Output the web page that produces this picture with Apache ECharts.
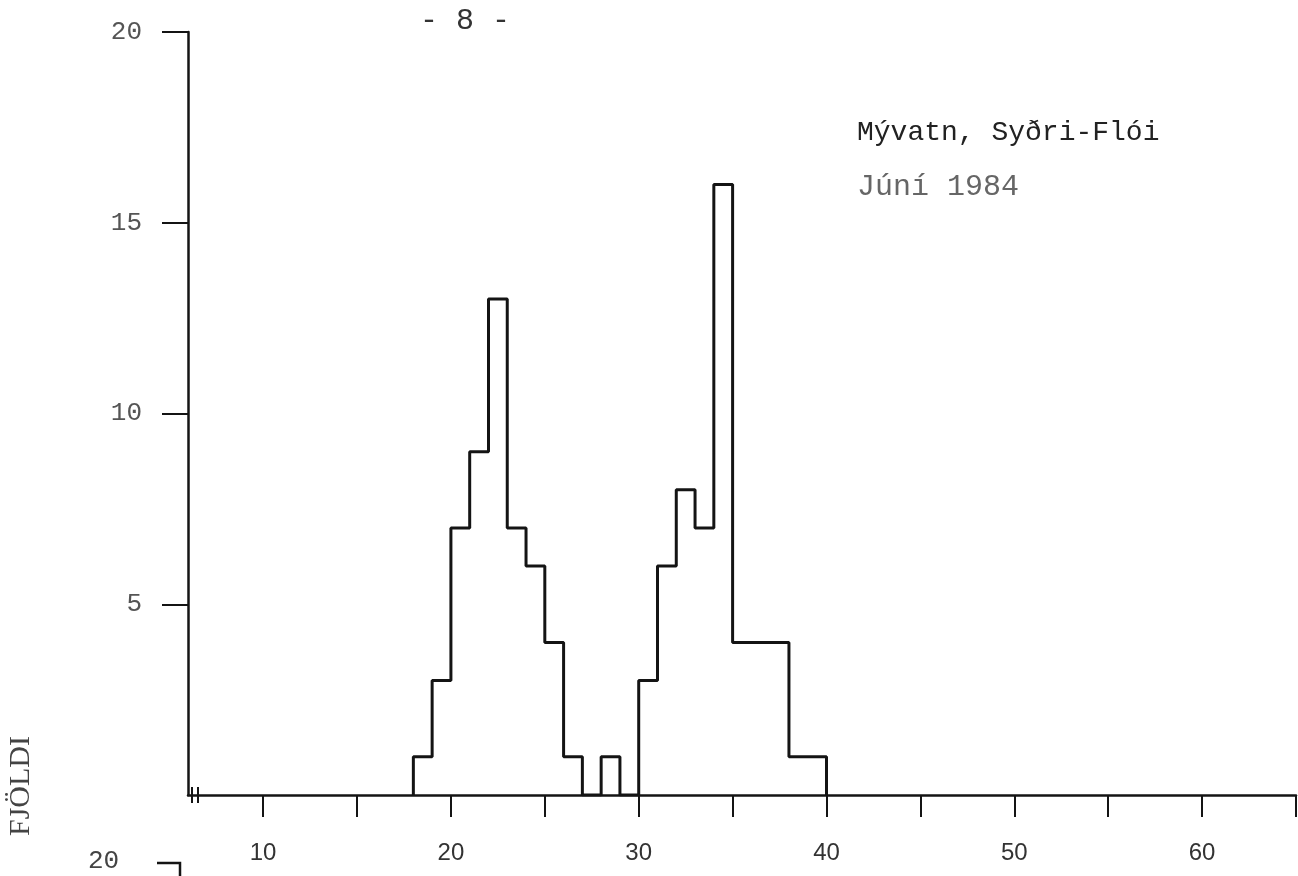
<!DOCTYPE html>
<html>
<head>
<meta charset="utf-8">
<script src="https://cdn.jsdelivr.net/npm/echarts@6/dist/echarts.min.js"></script>
<style>
html,body{margin:0;padding:0;background:#fff;}
#main{width:1298px;height:876px;}
</style>
</head>
<body>
<div id="main"></div>
<script>
// ---- data ----
const binStarts = [18,19,20,21,22,23,24,25,26,27,28,29,30,31,32,33,34,35,36,37,38,39];
const counts    = [ 1, 3, 7, 9,13, 7, 6, 4, 1, 0, 1, 0, 3, 6, 8, 7,16, 4, 4, 4, 1, 1];
const binWidth = 1;
const xTicks = [10,15,20,25,30,35,40,45,50,55,60,65];
const xLabels = [10,20,30,40,50,60];
const yTicks = [5,10,15,20];
const pageLabel = '- 8 -';
const titleText = 'Mývatn, Syðri-Flói';
const subText = 'Júní 1984';
const yName = 'FJÖLDI';

// step outline of histogram
const outline = [[binStarts[0], 0]];
binStarts.forEach((s, i) => outline.push([s, counts[i]]));
outline.push([binStarts[binStarts.length - 1] + binWidth, 0]);

const ink = '#141414';
const chart = echarts.init(document.getElementById('main'));
chart.setOption({
  backgroundColor: '#ffffff',
  animation: false,
  grid: { left: 188, right: 2, top: 32, bottom: 81, containLabel: false },
  xAxis: {
    type: 'value', min: 6, max: 65,
    splitLine: { show: false },
    axisLine: { show: true, onZero: false, lineStyle: { color: ink, width: 2.5 } },
    axisTick: { show: true, inside: false, length: 22, customValues: xTicks, lineStyle: { color: ink, width: 2 } },
    axisLabel: { show: true, customValues: xLabels, margin: 46, color: '#333',
      fontFamily: 'Liberation Sans', fontSize: 24 }
  },
  yAxis: {
    type: 'value', min: 0, max: 20,
    splitLine: { show: false },
    axisLine: { show: true, onZero: false, lineStyle: { color: ink, width: 2.5 } },
    axisTick: { show: true, inside: false, length: 26, customValues: yTicks, lineStyle: { color: ink, width: 2 } },
    axisLabel: { show: true, customValues: yTicks, margin: 46, color: '#555',
      fontFamily: 'Liberation Mono', fontSize: 26 }
  },
  series: [{
    type: 'line', step: 'end', data: outline, symbol: 'none',
    lineStyle: { color: ink, width: 3 }, silent: true
  }]
});

// decorations placed from the axis scale
const o = chart.convertToPixel('grid', [6, 0]);
chart.setOption({
  graphic: [
    { type: 'text', left: 420, top: 6, style: { text: pageLabel, font: '30px "Liberation Mono"', fill: '#333' } },
    { type: 'text', left: 857, top: 119, style: { text: titleText, font: '28px "Liberation Mono"', fill: '#222' } },
    { type: 'text', left: 857, top: 172, style: { text: subText, font: '30px "Liberation Mono"', fill: '#666' } },
    { type: 'text', x: 6, y: 836, rotation: Math.PI / 2,
      style: { text: yName, font: '30px "Liberation Serif"', fill: '#444' } },
    { type: 'line', shape: { x1: o[0] + 4, y1: o[1] - 8, x2: o[0] + 4, y2: o[1] + 8 }, style: { stroke: ink, lineWidth: 2 } },
    { type: 'line', shape: { x1: o[0] + 10, y1: o[1] - 8, x2: o[0] + 10, y2: o[1] + 8 }, style: { stroke: ink, lineWidth: 2 } },
    { type: 'text', left: 88, top: 848, style: { text: '20', font: '26px "Liberation Mono"', fill: '#444' } },
    { type: 'polyline', shape: { points: [[157, 863], [180, 863], [180, 876]] }, style: { stroke: ink, lineWidth: 2.5, fill: null } }
  ]
});
</script>
</body>
</html>
